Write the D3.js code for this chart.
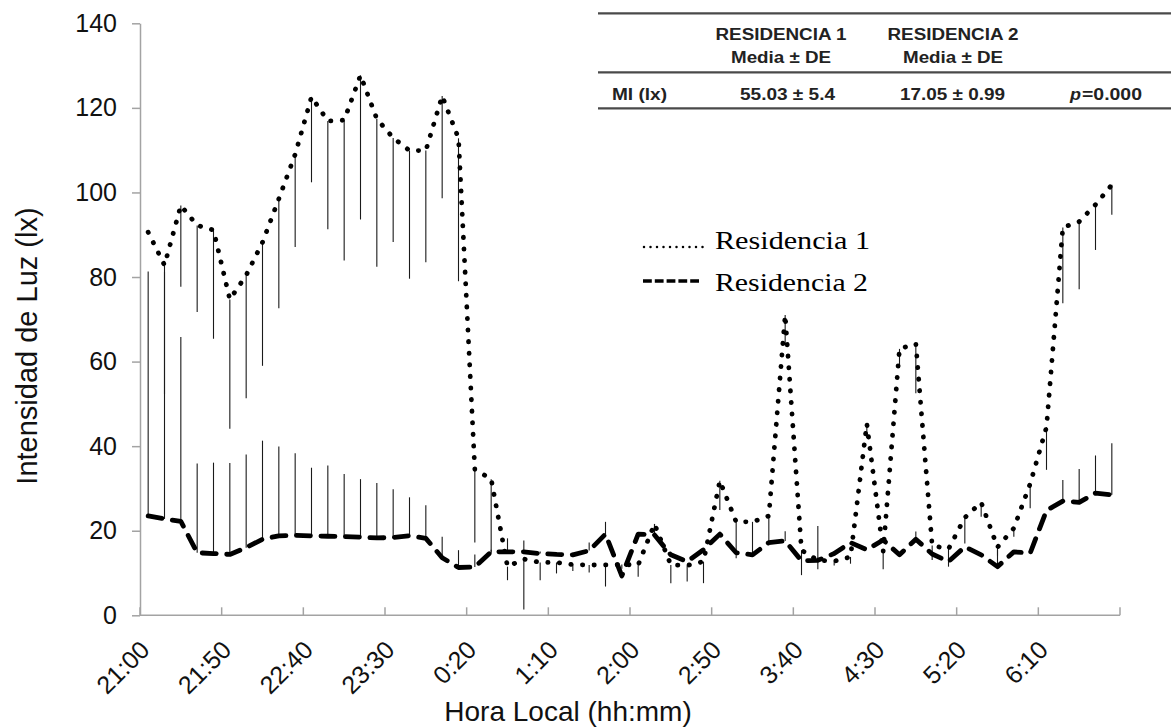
<!DOCTYPE html>
<html><head><meta charset="utf-8">
<script src="https://cdn.jsdelivr.net/npm/d3@7"></script>
<style>body{margin:0;background:#fff;} svg{display:block;}</style>
</head><body><svg id="c" width="1171" height="727"></svg>
<script>
// ---- data ----
const times = [
 "21:00","21:10","21:20","21:30","21:40","21:50","22:00","22:10","22:20","22:30",
 "22:40","22:50","23:00","23:10","23:20","23:30","23:40","23:50","0:00","0:10",
 "0:20","0:30","0:40","0:50","1:00","1:10","1:20","1:30","1:40","1:50",
 "2:00","2:10","2:20","2:30","2:40","2:50","3:00","3:10","3:20","3:30",
 "3:40","3:50","4:00","4:10","4:20","4:30","4:40","4:50","5:00","5:10",
 "5:20","5:30","5:40","5:50","6:00","6:10","6:20","6:30","6:40","6:50"
];
const tickLabels = ["21:00","21:50","22:40","23:30","0:20","1:10","2:00","2:50","3:40","4:30","5:20","6:10"];
const yTicks = [0, 20, 40, 60, 80, 100, 120, 140];

const res1 = [
 90.6, 82.8, 96.9, 92.2, 91.1, 74.7, 80.4, 88.2, 98.5, 109.0,
 122.6, 116.9, 117.1, 127.7, 117.4, 112.9, 109.9, 109.9, 122.8, 112.8,
 34.5, 32.2, 11.5, 13.3, 12.5, 12.5, 12.0, 11.9, 11.9, 12.0,
 11.9, 21.6, 11.9, 11.8, 12.7, 31.8, 22.1, 22.1, 23.5, 71.0,
 15.4, 13.0, 12.8, 13.8, 45.3, 15.1, 63.0, 64.2, 16.5, 15.7,
 23.1, 26.7, 16.1, 20.6, 31.1, 44.5, 91.7, 93.1, 97.1, 101.8
];
const res1SD = [
 0, 30.6, 19.2, 20.5, 25.7, 30.6, 29.1, 29.2, 25.9, 21.9,
 20.2, 25.6, 33.2, 34.1, 35.0, 24.6, 30.3, 26.4, 24.2, 33.8,
 17.3, 17.5, 3.2, 11.9, 4.2, 2.6, 1.5, 1.8, 5.1, 1.0,
 2.8, 3.0, 4.3, 3.8, 5.1, 6.9, 8.6, 7.8, 6.3, 7.0,
 5.9, 2.1, 1.0, 1.6, 3.4, 4.2, 3.8, 11.7, 3.4, 4.2,
 6.1, 3.4, 2.0, 2.0, 5.8, 10.1, 17.9, 16.0, 10.7, 7.1
];
const res2 = [
 23.5, 22.8, 22.2, 14.8, 14.6, 14.4, 16.0, 18.0, 18.8, 18.9,
 18.8, 18.7, 18.6, 18.5, 18.3, 18.4, 18.8, 18.2, 13.6, 11.3,
 11.4, 15.0, 15.0, 15.0, 14.6, 14.4, 14.3, 15.3, 19.2, 9.3,
 19.2, 19.0, 14.3, 12.7, 15.5, 19.2, 14.8, 14.3, 17.2, 17.6,
 12.9, 13.0, 14.6, 17.2, 15.5, 17.8, 14.3, 18.0, 14.5, 12.7,
 16.2, 14.3, 11.5, 15.0, 14.7, 24.8, 27.0, 26.7, 28.9, 28.5
];
const res2SD = [
 57.8, 58.5, 43.6, 21.1, 21.5, 21.6, 22.0, 23.3, 21.1, 19.4,
 16.1, 16.7, 14.8, 13.7, 13.0, 11.4, 9.1, 7.8, 5.0, 4.1,
 3.0, 0.5, 3.2, 2.7, 0.5, 0.5, 0.5, 1.9, 2.9, 0.5,
 0.5, 2.6, 0, 0, 0, 0.5, 0, 0, 0, 2.3,
 0, 8.1, 0.5, 0, 0, 0.5, 0, 1.8, 0, 0,
 0, 0, 3.9, 0, 0, 0, 5.0, 7.9, 8.9, 12.2
];
const seriesNames = ["Residencia 1", "Residencia 2"];
const tableHead1 = ["RESIDENCIA 1", "RESIDENCIA 2"];
const tableHead2 = ["Media ± DE", "Media ± DE"];
const tableRowLabel = "MI (lx)";
const tableRowValues = ["55.03 ± 5.4", "17.05 ± 0.99"];
const pValue = "=0.000";
const xTitle = "Hora Local (hh:mm)";
const yTitle = "Intensidad de Luz (lx)";

// ---- drawing ----
const svg = d3.select("#c");
const L = 140, R = 1120, T = 23.3, B = 615.3;
const x = d3.scaleBand().domain(times).range([L, R]);
const y = d3.scaleLinear().domain([0, 140]).range([B, T]);
const cx = i => x(times[i]) + x.bandwidth() / 2;
const axisColor = "#a3a3a3";
const sans = "'Liberation Sans', Arial, sans-serif";

// y axis
const ya = svg.append("g").attr("transform", `translate(${L},0)`)
  .call(d3.axisLeft(y).tickValues(yTicks).tickSize(8).tickSizeOuter(0).tickPadding(15));
ya.select(".domain").attr("stroke", axisColor).attr("stroke-width", 1.5);
ya.selectAll(".tick line").attr("stroke", axisColor).attr("stroke-width", 1.5);
ya.selectAll(".tick text").attr("font-family", sans).attr("font-size", 25).attr("fill", "#111");

// x axis
const tickIdx = tickLabels.map(t => times.indexOf(t));
svg.append("line").attr("x1", L).attr("x2", R).attr("y1", B).attr("y2", B)
  .attr("stroke", axisColor).attr("stroke-width", 1.5);
const bounds = tickIdx.map(i => x(times[i])).concat([x.range()[1]]);
svg.append("g").selectAll("line").data(bounds).join("line")
  .attr("x1", d => d).attr("x2", d => d).attr("y1", B).attr("y2", B - 8)
  .attr("stroke", axisColor).attr("stroke-width", 1.5);
svg.append("g").selectAll("text").data(tickIdx).join("text")
  .attr("transform", i => `translate(${cx(i) + 3},${B + 36}) rotate(-45)`)
  .attr("text-anchor", "end").attr("font-family", sans).attr("font-size", 25).attr("fill", "#111")
  .text(i => times[i]);

// axis titles
svg.append("text").attr("x", 568).attr("y", 721).attr("text-anchor", "middle")
  .attr("font-family", sans).attr("font-size", 28).attr("fill", "#111").text(xTitle);
svg.append("text").attr("transform", `translate(37,346) rotate(-90)`).attr("text-anchor", "middle")
  .attr("font-family", sans).attr("font-size", 29).attr("fill", "#111").text(yTitle);

// error bars
const eb = svg.append("g").attr("stroke", "#1a1a1a").attr("stroke-width", 1.1);
eb.selectAll(".e1").data(res1).join("line").attr("class", "e1")
  .attr("x1", (d, i) => cx(i)).attr("x2", (d, i) => cx(i))
  .attr("y1", d => y(d)).attr("y2", (d, i) => y(d - res1SD[i]));
eb.selectAll(".e2").data(res2).join("line").attr("class", "e2")
  .attr("x1", (d, i) => cx(i)).attr("x2", (d, i) => cx(i))
  .attr("y1", d => y(d)).attr("y2", (d, i) => y(d + res2SD[i]));

const line = d3.line().x((d, i) => cx(i)).y(d => y(d));
svg.append("path").datum(res1).attr("d", line).attr("fill", "none")
  .attr("stroke", "#000").attr("stroke-width", 4.8).attr("stroke-linecap", "round")
  .attr("stroke-dasharray", "0.3 11.3");
svg.append("path").datum(res2).attr("d", line).attr("fill", "none")
  .attr("stroke", "#000").attr("stroke-width", 4.8).attr("stroke-linecap", "round")
  .attr("stroke-linejoin", "round").attr("stroke-dasharray", "14 10.5");

// legend
const lg = svg.append("g");
lg.selectAll("circle").data(d3.range(10)).join("circle")
  .attr("cx", d => 644 + d * 6.5).attr("cy", 247).attr("r", 1.25).attr("fill", "#000");
lg.append("line").attr("x1", 643).attr("x2", 702).attr("y1", 281).attr("y2", 281)
  .attr("stroke", "#000").attr("stroke-width", 3.4).attr("stroke-dasharray", "8.8 3");
lg.selectAll("text").data(seriesNames).join("text")
  .attr("x", 715).attr("y", (d, i) => 248.5 + i * 42)
  .attr("font-family", "'Liberation Serif', 'DejaVu Serif', serif").attr("font-size", 25)
  .attr("textLength", (d, i) => i ? 153 : 155).attr("lengthAdjust", "spacingAndGlyphs")
  .attr("fill", "#000").text(d => d);

// table
const tb = svg.append("g");
[13.3, 72.3, 108.3].forEach(yy => tb.append("line").attr("x1", 598).attr("x2", 1171)
  .attr("y1", yy).attr("y2", yy).attr("stroke", "#4a4a4a").attr("stroke-width", 2.2));
const tf = (sel) => sel.attr("font-family", sans).attr("font-weight", "bold").attr("font-size", 16)
  .attr("fill", "#222").attr("lengthAdjust", "spacingAndGlyphs");
const colC = [781, 953];
tableHead1.forEach((t, i) => tf(tb.append("text")).attr("x", colC[i]).attr("y", 40).attr("text-anchor", "middle")
  .attr("textLength", 131).text(t));
tableHead2.forEach((t, i) => tf(tb.append("text")).attr("x", colC[i]).attr("y", 63).attr("text-anchor", "middle")
  .attr("textLength", 100).text(t));
tf(tb.append("text")).attr("x", 612).attr("y", 99.5).attr("textLength", 55).text(tableRowLabel);
const valX = [740, 900], valW = [95, 105];
tableRowValues.forEach((t, i) => tf(tb.append("text")).attr("x", valX[i]).attr("y", 99.5)
  .attr("textLength", valW[i]).text(t));
tf(tb.append("text")).attr("x", 1070).attr("y", 99.5).attr("font-style", "italic").attr("textLength", 11).text("p");
tf(tb.append("text")).attr("x", 1082).attr("y", 99.5).attr("textLength", 60).text(pValue);
</script></body></html>
